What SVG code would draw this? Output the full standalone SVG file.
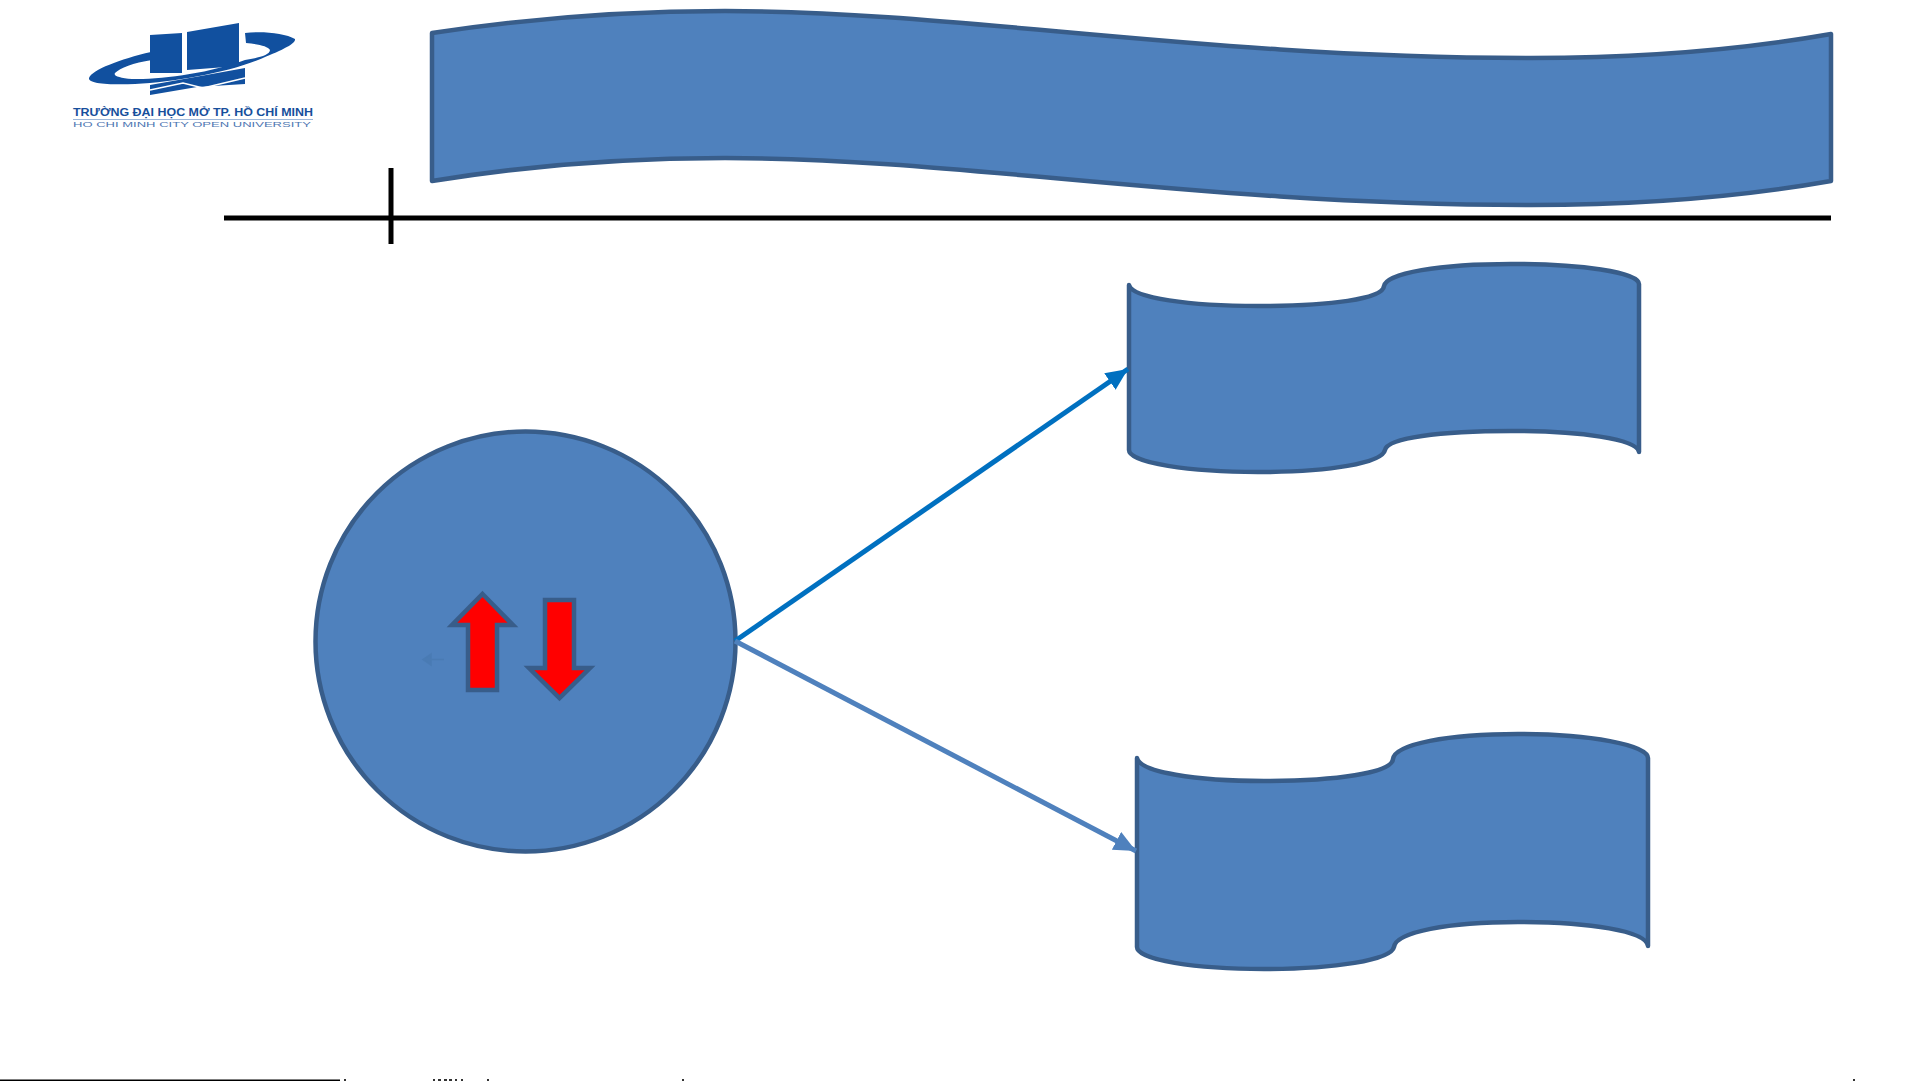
<svg xmlns="http://www.w3.org/2000/svg" width="1921" height="1081" viewBox="0 0 1921 1081">
<style>
.shape{fill:#4f81bd;stroke:#385d8a;stroke-width:4.5;stroke-linejoin:round}
.red{fill:#ff0000;stroke:#385d8a;stroke-width:4.5;stroke-linejoin:miter}
.rule{stroke:#000;stroke-width:5;fill:none}
.logo{fill:#11509f}
.t1{font-family:"Liberation Sans",Arial,sans-serif;font-size:10.5px;font-weight:700;fill:#174f9c}
.t2{font-family:"Liberation Sans",Arial,sans-serif;font-size:8px;fill:#4f77b3}
</style>
<defs>
<marker id="h1" markerUnits="userSpaceOnUse" markerWidth="24" markerHeight="20" refX="22" refY="10" orient="auto"><path d="M0 0L22 10L0 20Z" fill="#0070c0"/></marker>
<marker id="h2" markerUnits="userSpaceOnUse" markerWidth="24" markerHeight="20" refX="22" refY="10" orient="auto"><path d="M0 0L22 10L0 20Z" fill="#4f81bd"/></marker>
</defs>
<rect width="1921" height="1081" fill="#fff"/>
<g id="logo">
<path class="logo" d="M295 39C285 33 262 31 245 33L246 43C258 44 268 46 270 50C270 55 258 58 245 60C210 73 160 80 132 79C120 78 113 76 115 73C120 68 133 63 152 60L151 52C120 59 92 70 89 78C88 83 105 85 135 84C175 82 225 73 258 60C280 51 296 44 295 39Z"/>
<path class="logo" d="M150 35L182 33L182 73L150 73Z"/>
<path class="logo" d="M187 32L239 23L239 66L187 70Z"/>
<path class="logo" d="M150 85L195 77L245 68V84L197 87L150 95Z"/>
<path d="M150 90L183 83L203 88L245 78" fill="none" stroke="#fff" stroke-width="1.500"/>
<text class="t1" x="73" y="116" textLength="240" lengthAdjust="spacingAndGlyphs">TRƯỜNG ĐẠI HỌC MỞ TP. HỒ CHÍ MINH</text>
<rect x="73" y="119" width="240" height="1" fill="#9db7da"/>
<text class="t2" x="73" y="127" textLength="238" lengthAdjust="spacingAndGlyphs">HO CHI MINH CITY OPEN UNIVERSITY</text>
</g>
<g id="banner">
<path class="shape" d="M432 33C530 18 630 11 725 11C960 11 1200 58 1531 58C1640 58 1740 50 1831 34L1831 181C1740 197 1640 205 1531 205C1200 205 960 158 725 158C630 158 530 165 432 181Z"/>
</g>
<g id="rules">
<path class="rule" d="M224 218H1831"/>
<path class="rule" d="M391 168V244"/>
</g>
<g id="circle-node">
<circle class="shape" cx="525.500" cy="641.500" r="210"/>
<path d="M444 659.500H430M431 654L423 659.500L431 665Z" fill="#4a7bb4" stroke="#4a7bb4" stroke-width="1.500"/>
</g>
<g id="arrow-up">
<path class="red" d="M482.500 594L513 625H497V690H468V625H452Z"/>
</g>
<g id="arrow-down">
<path class="red" d="M545 600H574V668H590L559.500 698L529 668H545Z"/>
</g>
<g id="ribbon-top">
<path class="shape" d="M1129 285C1132 298 1190 306 1258 306C1330 306 1383 299 1384 286C1386 273 1440 264 1511 264C1580 264 1639 272 1639 284V452C1637 439 1580 431 1511 431C1440 431 1387 438 1385 450C1382 463 1330 472 1258 472C1190 472 1129 463 1129 450Z"/>
</g>
<g id="ribbon-bottom">
<path class="shape" d="M1137 758C1140 772 1195 781 1264 781C1335 781 1392 773 1393 759C1395 744 1448 734 1518 734C1590 734 1648 745 1648 758V946C1646 931 1590 922 1518 922C1448 922 1396 932 1394 947C1391 960 1335 969 1264 969C1195 969 1137 960 1137 947Z"/>
</g>
<g id="connectors" fill="none" stroke-width="5">
<path d="M735 641L1128 369" stroke="#0070c0" marker-end="url(#h1)"/>
<path d="M735 641L1136 851" stroke="#4f81bd" marker-end="url(#h2)"/>
</g>
<g id="bottom-edge">
<rect x="0" y="1079.500" width="340" height="1.500" fill="#000"/>
<path d="M344 1080h2M433 1080h2M438 1080h3M444 1080h3M449 1080h3M455 1080h2M461 1080h2M487 1080h2M682 1080h2M1853 1080h2" stroke="#333" stroke-width="2" fill="none"/>
</g>
</svg>
